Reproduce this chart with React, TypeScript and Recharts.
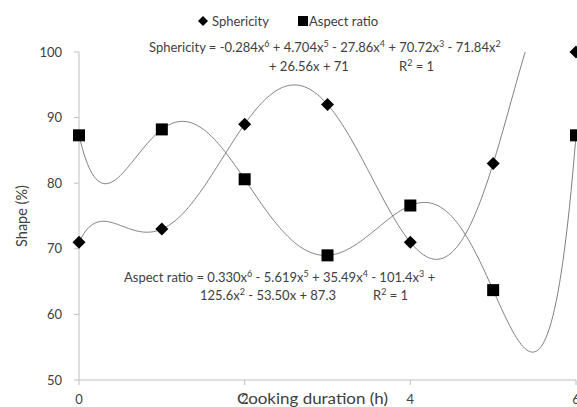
import React from "react";
import { ComposedChart, Line, Scatter, XAxis, YAxis, Customized } from "recharts";

// cooking time (h)
const hours = [0, 1, 2, 3, 4, 5, 6];
const sphericity = [71, 73, 89, 92, 71, 83, 100];
const aspectRatio = [87.3, 88.2, 80.6, 69.0, 76.6, 63.7, 87.3];
const xTicks = [0, 2, 4, 6];
const yTicks = [50, 60, 70, 80, 90, 100];

const sphericityEq = [
  "Sphericity = -0.284x^6 + 4.704x^5 - 27.86x^4 + 70.72x^3 - 71.84x^2",
  "+ 26.56x + 71",
  "R^2 = 1",
];
const aspectEq = [
  "Aspect ratio = 0.330x^6 - 5.619x^5 + 35.49x^4 - 101.4x^3 +",
  "125.6x^2 - 53.50x + 87.3",
  "R^2 = 1",
];

const rows = hours.map((h, i) => ({ h, s: sphericity[i], a: aspectRatio[i] }));

const FONT = "Lato, 'Open Sans', sans-serif";
const TEXT = "#404040";
const AXIS = "#bfbfbf";
const TREND = "#808080";

// 6th-order trendline: the polynomial passing through every point of the series
const polyCurve = (context: any) => {
  let px: number[] = [];
  let py: number[] = [];
  return {
    areaStart() {},
    areaEnd() {},
    lineStart() {
      px = [];
      py = [];
    },
    point(x: number, y: number) {
      px.push(+x);
      py.push(+y);
    },
    lineEnd() {
      const n = px.length;
      if (!n) return;
      const at = (x: number) => {
        let sum = 0;
        for (let i = 0; i < n; i++) {
          let term = py[i];
          for (let j = 0; j < n; j++) {
            if (j !== i) term *= (x - px[j]) / (px[i] - px[j]);
          }
          sum += term;
        }
        return sum;
      };
      const steps = 300;
      for (let k = 0; k <= steps; k++) {
        const x = px[0] + ((px[n - 1] - px[0]) * k) / steps;
        if (k === 0) context.moveTo(x, at(x));
        else context.lineTo(x, at(x));
      }
    },
  };
};

const Diamond = ({ cx, cy, r = 6 }: any) => (
  <path d={`M${cx},${cy - r}L${cx + r},${cy}L${cx},${cy + r}L${cx - r},${cy}Z`} fill="#000" />
);
const Square = ({ cx, cy, r = 6 }: any) => (
  <rect x={cx - r} y={cy - r} width={r * 2} height={r * 2} fill="#000" />
);

// "x^6" -> x with a raised 6
const Eq = ({ x, y, text }: any) => {
  const parts = text.split(/\^(\d)/);
  return (
    <text x={x} y={y} fontFamily={FONT} fontSize={13} fill={TEXT}>
      {parts.map((p: string, i: number) =>
        i % 2 === 1 ? (
          <tspan key={i} dy={-5} fontSize={9}>
            {p}
          </tspan>
        ) : (
          <tspan key={i} dy={i === 0 ? 0 : 5}>
            {p}
          </tspan>
        )
      )}
    </text>
  );
};

const Annotations = () => (
  <g>
    {/* legend */}
    <Diamond cx={203} cy={21} r={5} />
    <text x={212} y={25.5} fontFamily={FONT} fontSize={13} fill={TEXT}>Sphericity</text>
    <Square cx={303} cy={21} r={5} />
    <text x={309} y={25.5} fontFamily={FONT} fontSize={13} fill={TEXT}>Aspect ratio</text>

    <Eq x={149} y={52} text={sphericityEq[0]} />
    <Eq x={269} y={71} text={sphericityEq[1]} />
    <Eq x={399} y={71} text={sphericityEq[2]} />
    <Eq x={124} y={282} text={aspectEq[0]} />
    <Eq x={200} y={300} text={aspectEq[1]} />
    <Eq x={373} y={300} text={aspectEq[2]} />

    <text
      x={312.5}
      y={404}
      textAnchor="middle"
      fontFamily={FONT}
      fontSize={15.5}
      textLength={151}
      lengthAdjust="spacingAndGlyphs"
      fill={TEXT}
    >
      Cooking duration (h)
    </text>
    <text
      x={27}
      y={216}
      textAnchor="middle"
      transform="rotate(-90 27 216)"
      fontFamily={FONT}
      fontSize={14.5}
      fill={TEXT}
    >
      Shape (%)
    </text>
  </g>
);

export default function App() {
  return (
    <div
      style={{
        position: "fixed",
        left: 0,
        top: 0,
        width: 577,
        height: 407,
        overflow: "hidden",
        background: "#fff",
      }}
    >
      <ComposedChart width={640} height={407} data={rows} margin={{ top: 52, right: 64, bottom: 7, left: 29 }}>
        <XAxis
          dataKey="h"
          type="number"
          domain={[0, 6]}
          ticks={xTicks}
          tickSize={5}
          tickMargin={10}
          stroke={AXIS}
          tick={{ fill: TEXT, fontSize: 13, fontFamily: FONT }}
          height={20}
        />
        <YAxis
          yAxisId="main"
          domain={[50, 100]}
          ticks={yTicks}
          width={50}
          tickSize={5}
          tickMargin={12}
          stroke={AXIS}
          tick={{ fill: TEXT, fontSize: 13, fontFamily: FONT }}
        />
        {/* same scale, but clips the trendlines to the plot area */}
        <YAxis yAxisId="clip" orientation="right" hide domain={[50, 100]} allowDataOverflow />
        <Line
          yAxisId="clip"
          dataKey="s"
          type={polyCurve as any}
          stroke={TREND}
          strokeWidth={1}
          dot={false}
          activeDot={false}
          isAnimationActive={false}
        />
        <Line
          yAxisId="clip"
          dataKey="a"
          type={polyCurve as any}
          stroke={TREND}
          strokeWidth={1}
          dot={false}
          activeDot={false}
          isAnimationActive={false}
        />
        <Scatter yAxisId="main" dataKey="s" shape={(p: any) => <Diamond cx={p.cx} cy={p.cy} r={6.5} />} isAnimationActive={false} />
        <Scatter yAxisId="main" dataKey="a" shape={(p: any) => <Square cx={p.cx} cy={p.cy} r={6} />} isAnimationActive={false} />
        <Customized component={Annotations} />
      </ComposedChart>
    </div>
  );
}
